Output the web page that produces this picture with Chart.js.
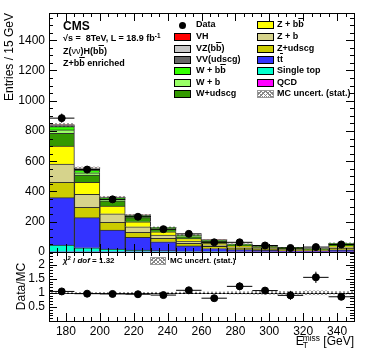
<!DOCTYPE html>
<html>
<head>
<meta charset="utf-8">
<script src="https://cdn.jsdelivr.net/npm/chart.js@4"></script>
<style>
body { margin: 0; background: #fff; }
#wrap { position: relative; width: 374px; height: 359px; overflow: hidden; font-family: "Liberation Sans", Arial, sans-serif; color: #000; }
canvas { position: absolute; left: 0; top: 0; }
.t { position: absolute; white-space: nowrap; line-height: 1; }
.b { font-weight: bold; font-size: 9px; }
.ob { text-decoration: overline; }
.box { position: absolute; width: 17px; height: 8px; border: 1px solid #000; box-sizing: border-box; }
.hatch { background: repeating-linear-gradient(45deg, #888 0 1px, transparent 1px 3px), repeating-linear-gradient(-45deg, #888 0 1px, #fff 1px 3px); }
sup { font-size: 0.7em; vertical-align: 0.45em; line-height: 0; }
sub { font-size: 0.7em; vertical-align: -0.3em; line-height: 0; }
</style>
</head>
<body>
<div id="wrap">
  <canvas id="top" width="374" height="359"></canvas>
  <canvas id="ratio" width="374" height="359"></canvas>

  <div class="t" style="left:63px;top:20px;font-weight:bold;font-size:12px;">CMS</div>
  <div class="t b" style="left:63px;top:34px;">√s =&nbsp; 8TeV, L = 18.9 fb<sup>-1</sup></div>
  <div class="t b" style="left:63px;top:47px;">Z(<span style="font-weight:normal">νν</span>)H(b<span class="ob">b</span>)</div>
  <div class="t b" style="left:63px;top:59px;">Z+b<span class="ob">b</span> enriched</div>

  <div class="t" style="left:179px;top:22px;width:7px;height:7px;border-radius:50%;background:#000;"></div>
  <div class="t b" style="left:196px;top:20px;">Data</div>
  <div class="box" style="left:174px;top:33px;background:#ff0000;"></div>
  <div class="t b" style="left:196px;top:32px;">VH</div>
  <div class="box" style="left:174px;top:45px;background:#c8c8c8;"></div>
  <div class="t b" style="left:196px;top:44px;">VZ(b<span class="ob">b</span>)</div>
  <div class="box" style="left:174px;top:56px;background:#666666;"></div>
  <div class="t b" style="left:196px;top:55px;">VV(udscg)</div>
  <div class="box" style="left:174px;top:67px;background:#33ff00;"></div>
  <div class="t b" style="left:196px;top:66px;">W + b<span class="ob">b</span></div>
  <div class="box" style="left:174px;top:79px;background:#99ff66;"></div>
  <div class="t b" style="left:196px;top:78px;">W + b</div>
  <div class="box" style="left:174px;top:90px;background:#339900;"></div>
  <div class="t b" style="left:196px;top:89px;">W+udscg</div>

  <div class="box" style="left:257px;top:21px;background:#ffff00;"></div>
  <div class="t b" style="left:277px;top:20px;">Z + b<span class="ob">b</span></div>
  <div class="box" style="left:257px;top:33px;background:#d6d38c;"></div>
  <div class="t b" style="left:277px;top:32px;">Z + b</div>
  <div class="box" style="left:257px;top:45px;background:#cccc00;"></div>
  <div class="t b" style="left:277px;top:44px;">Z+udscg</div>
  <div class="box" style="left:257px;top:56px;background:#3333ff;"></div>
  <div class="t b" style="left:277px;top:55px;">t<span class="ob">t</span></div>
  <div class="box" style="left:257px;top:67px;background:#00ffcc;"></div>
  <div class="t b" style="left:277px;top:66px;">Single top</div>
  <div class="box" style="left:257px;top:79px;background:#ff00ff;"></div>
  <div class="t b" style="left:277px;top:78px;">QCD</div>
  <div class="box hatch" style="left:257px;top:90px;border-color:#999;"></div>
  <div class="t b" style="left:277px;top:89px;">MC uncert. (stat.)</div>

  <div class="t b" style="left:63px;top:257px;font-size:8px;"><i>χ</i><sup>2</sup> / <i>dof</i> = 1.32</div>
  <div class="box hatch" style="left:150px;top:257px;width:16px;border-color:#999;"></div>
  <div class="t b" style="left:170px;top:257px;font-size:8px;">MC uncert. (stat.)</div>

  <div class="t" style="right:20px;top:335px;font-size:12px;">E<sub style="margin-left:-1px">T</sub><sup style="margin-left:-5px">miss</sup> [GeV]</div>
</div>

<script>
// bin centres of the 15 GeV bins, 170-350 GeV
const binCenters = [177.5, 192.5, 207.5, 222.5, 237.5, 252.5, 267.5, 282.5, 297.5, 312.5, 327.5, 342.5];

// MC backgrounds, bottom of the stack first
const qcd       = [0, 0, 0, 0, 0, 0, 0, 0, 0, 0, 0, 0];
const singleTop = [45, 28, 20, 12, 9, 6, 4, 3, 2, 1.5, 1, 2];
const ttbar     = [314, 199, 125, 85, 59, 34, 19, 13, 9, 6, 4, 13];
const zUdscg    = [102, 69, 51, 33, 22, 18, 14, 9, 7, 5.5, 4, 10];
const zB        = [121, 85, 57, 37, 22, 15, 11, 7, 6, 4, 3, 8];
const zBB       = [119, 80, 51, 33, 22, 16, 10, 7, 5, 4, 3, 7];
const wUdscg    = [84, 48, 35, 27, 18, 12, 14, 8, 7, 5, 4, 12];
const wB        = [22, 15, 9, 7, 5, 4, 3, 2, 1.5, 1, 0.7, 2.5];
const wBB       = [22, 17, 9, 7, 4, 4, 3, 2, 1.5, 1.5, 0.8, 2.5];
const vvUdscg   = [7, 8, 3, 2, 1.5, 2, 1.5, 0.7, 0.7, 0.3, 0.3, 0.7];
const vzBB      = [4, 5, 2, 1.5, 0.5, 1, 0.5, 0.3, 0.3, 0.2, 0.2, 0.3];
const vh        = [1, 1, 0.5, 0.5, 0.3, 0.3, 0.2, 0.2, 0.2, 0.1, 0.1, 0.1];
const mcStatErr = [9, 7, 5, 4, 3, 3, 2.5, 2, 2, 1.5, 1.5, 2.5];

// data
const dataVals = [885, 545, 348, 233, 151, 120, 64, 64, 43, 26.5, 32.5, 50];
const dataErr  = [30, 23, 19, 15, 12, 11, 8, 8, 6.5, 5, 5.5, 7];

// ratio panel
const ratioVals = [1.05, 0.97, 0.96, 0.95, 0.92, 1.09, 0.81, 1.23, 1.08, 0.91, 1.55, 0.86];
const ratioErr  = [0.04, 0.04, 0.05, 0.06, 0.07, 0.1, 0.08, 0.14, 0.11, 0.16, 0.2, 0.1];
const ratioBand = [0.012, 0.013, 0.015, 0.017, 0.02, 0.027, 0.03, 0.04, 0.05, 0.05, 0.07, 0.045];

// tick labels
const metTicks = [180, 200, 220, 240, 260, 280, 300, 320, 340];
const entriesTicks = [0, 200, 400, 600, 800, 1000, 1200, 1400];
const ratioTicks = [0.5, 1, 1.5, 2];

const layers = [
    ['QCD', qcd, '#ff00ff'],
    ['Single top', singleTop, '#00ffcc'],
    ['tt', ttbar, '#3333ff'],
    ['Z+udscg', zUdscg, '#cccc00'],
    ['Z + b', zB, '#d6d38c'],
    ['Z + bb', zBB, '#ffff00'],
    ['W+udscg', wUdscg, '#339900'],
    ['W + b', wB, '#99ff66'],
    ['W + bb', wBB, '#33ff00'],
    ['VV(udscg)', vvUdscg, '#666666'],
    ['VZ(bb)', vzBB, '#c8c8c8'],
    ['VH', vh, '#ff0000']
];

const mcTotal = binCenters.map((_, i) => layers.reduce((s, l) => s + l[1][i], 0));

function makeHatch(color) {
    const c = document.createElement('canvas');
    c.width = 4; c.height = 4;
    const g = c.getContext('2d');
    g.strokeStyle = color;
    g.lineWidth = 0.8;
    g.beginPath();
    g.moveTo(0, 0); g.lineTo(4, 4);
    g.moveTo(4, 0); g.lineTo(0, 4);
    g.stroke();
    return g.createPattern(c, 'repeat');
}
const hatch = makeHatch('#777');

const font = { family: '"Liberation Sans", Arial, sans-serif', size: 12 };
const plain = v => String(v);

// frame with inward ticks like ROOT
const framePlugin = {
    id: 'frame',
    afterDraw(chart, args, o) {
        const { ctx, chartArea: a } = chart;
        const x = chart.scales.x, y = chart.scales.y;
        ctx.save();
        ctx.strokeStyle = '#000';
        ctx.lineWidth = 1;
        ctx.beginPath();
        for (let i = 0; i <= 36; i++) {
            const v = 170 + 5 * i;
            const px = Math.round(x.getPixelForValue(v)) + 0.5;
            const len = v % 20 === 0 ? o.xMajor : o.xMinor;
            ctx.moveTo(px, a.bottom); ctx.lineTo(px, a.bottom - len);
            ctx.moveTo(px, a.top); ctx.lineTo(px, a.top + len);
        }
        const n = Math.floor(y.max / o.yStep + 1e-6);
        for (let i = 0; i <= n; i++) {
            const v = i * o.yStep;
            const py = Math.round(y.getPixelForValue(v)) + 0.5;
            const major = i % o.yEvery === 0;
            const len = major ? o.yMajor : o.yMinor;
            ctx.moveTo(a.left, py); ctx.lineTo(a.left + len, py);
            ctx.moveTo(a.right, py); ctx.lineTo(a.right - len, py);
        }
        ctx.stroke();
        ctx.strokeRect(Math.round(a.left) + 0.5, Math.round(a.top) + 0.5,
            Math.round(a.right - a.left), Math.round(a.bottom - a.top));
        ctx.restore();
    }
};

// error bars for the data points
const errPlugin = {
    id: 'errs',
    afterDatasetsDraw(chart, args, o) {
        const { ctx } = chart;
        const x = chart.scales.x, y = chart.scales[o.axis];
        ctx.save();
        ctx.strokeStyle = '#000';
        ctx.lineWidth = 1;
        ctx.beginPath();
        o.vals.forEach((v, i) => {
            const c = binCenters[i];
            const px = x.getPixelForValue(c), py = y.getPixelForValue(v);
            ctx.moveTo(x.getPixelForValue(c - 7.5), py);
            ctx.lineTo(x.getPixelForValue(c + 7.5), py);
            ctx.moveTo(px, y.getPixelForValue(v - o.errs[i]));
            ctx.lineTo(px, y.getPixelForValue(v + o.errs[i]));
        });
        ctx.stroke();
        ctx.restore();
    }
};

// horizontal line at ratio 1
const unityPlugin = {
    id: 'unity',
    beforeDatasetsDraw(chart) {
        const { ctx, chartArea: a } = chart;
        const py = Math.round(chart.scales.y.getPixelForValue(1)) + 0.5;
        ctx.save();
        ctx.strokeStyle = '#000';
        ctx.lineWidth = 1;
        ctx.beginPath();
        ctx.moveTo(a.left, py); ctx.lineTo(a.right, py);
        ctx.stroke();
        ctx.restore();
    }
};

const barCommon = { barPercentage: 1, categoryPercentage: 1, grouped: false };

new Chart(document.getElementById('top'), {
    type: 'bar',
    data: {
        datasets: [
            {
                type: 'scatter', label: 'Data', yAxisID: 'yb', order: 0,
                data: binCenters.map((c, i) => ({ x: c, y: dataVals[i] })),
                pointRadius: 3.5, pointHoverRadius: 3.5,
                backgroundColor: '#000', borderColor: '#000'
            },
            Object.assign({
                label: 'MC uncert. (stat.)', yAxisID: 'yb', order: 1,
                data: binCenters.map((c, i) => ({ x: c, y: [mcTotal[i] - mcStatErr[i], mcTotal[i] + mcStatErr[i]] })),
                backgroundColor: hatch, borderWidth: 0
            }, barCommon)
        ].concat(layers.map(l => Object.assign({
            label: l[0], yAxisID: 'y', order: 2, stack: 'mc',
            data: binCenters.map((c, i) => ({ x: c, y: l[1][i] })),
            backgroundColor: l[2],
            borderColor: 'rgba(0,0,0,0.8)',
            borderWidth: l[1].some(v => v > 0) ? 1 : 0,
            borderSkipped: 'start'
        }, barCommon)))
    },
    options: {
        responsive: false,
        animation: false,
        events: [],
        layout: { padding: { left: 0, top: 13, right: 20, bottom: 107 } },
        plugins: {
            legend: { display: false },
            tooltip: { enabled: false },
            frame: { xMajor: 8, xMinor: 4, yStep: 50, yEvery: 4, yMajor: 8, yMinor: 4 },
            errs: { axis: 'yb', vals: dataVals, errs: dataErr }
        },
        scales: {
            x: {
                type: 'linear', min: 170, max: 350, offset: false, display: false,
                afterBuildTicks: s => { s.ticks = metTicks.map(v => ({ value: v })); }
            },
            y: {
                stacked: true, min: 0, max: 1580,
                afterBuildTicks: s => { s.ticks = entriesTicks.map(v => ({ value: v })); },
                ticks: { font, color: '#000', padding: 4, callback: plain },
                grid: { display: false, drawTicks: false },
                border: { display: false },
                title: {
                    display: true, text: 'Entries / 15 GeV', align: 'end',
                    color: '#000', font: { family: font.family, size: 12 }, padding: { top: 2, bottom: 0 }
                },
                afterFit: s => { s.width = 49; }
            },
            yb: { display: false, min: 0, max: 1580 }
        }
    },
    plugins: [framePlugin, errPlugin]
});

new Chart(document.getElementById('ratio'), {
    type: 'bar',
    data: {
        datasets: [
            {
                type: 'scatter', label: 'Data/MC', order: 0,
                data: binCenters.map((c, i) => ({ x: c, y: ratioVals[i] })),
                pointRadius: 3.5, pointHoverRadius: 3.5,
                backgroundColor: '#000', borderColor: '#000'
            },
            Object.assign({
                label: 'MC uncert. (stat.)', order: 1,
                data: binCenters.map((c, i) => ({ x: c, y: [1 - ratioBand[i], 1 + ratioBand[i]] })),
                backgroundColor: hatch, borderWidth: 0
            }, barCommon)
        ]
    },
    options: {
        responsive: false,
        animation: false,
        events: [],
        layout: { padding: { left: 0, top: 252, right: 20, bottom: 0 } },
        plugins: {
            legend: { display: false },
            tooltip: { enabled: false },
            frame: { xMajor: 8, xMinor: 4, yStep: 0.1, yEvery: 5, yMajor: 8, yMinor: 4 },
            errs: { axis: 'y', vals: ratioVals, errs: ratioErr }
        },
        scales: {
            x: {
                type: 'linear', min: 170, max: 350, offset: false,
                afterBuildTicks: s => { s.ticks = metTicks.map(v => ({ value: v })); },
                ticks: { font, color: '#000', padding: 3, maxRotation: 0, autoSkip: false, callback: plain },
                grid: { display: false, drawTicks: false },
                border: { display: false },
                afterFit: s => { s.height = 38; }
            },
            y: {
                min: 0, max: 2.45,
                afterBuildTicks: s => { s.ticks = ratioTicks.map(v => ({ value: v })); },
                ticks: { font, color: '#000', padding: 4, callback: plain },
                grid: { display: false, drawTicks: false },
                border: { display: false },
                title: {
                    display: true, text: 'Data/MC', color: '#000',
                    font: { family: font.family, size: 12 }, padding: { top: 14, bottom: 0 }
                },
                afterFit: s => { s.width = 49; }
            }
        }
    },
    plugins: [framePlugin, errPlugin, unityPlugin]
});
</script>
</body>
</html>
